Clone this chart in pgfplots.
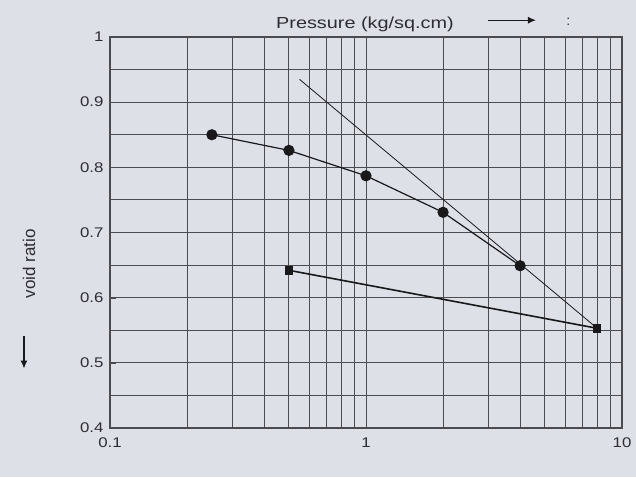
\documentclass[border=0pt]{standalone}
\usepackage{pgfplots}
\pgfplotsset{compat=1.18}
\usepackage{fontspec}
\setmainfont{Liberation Sans}
\usetikzlibrary{arrows.meta}
\definecolor{bg}{RGB}{222,224,232}
\definecolor{gridc}{RGB}{75,75,80}
\definecolor{ink}{RGB}{25,25,28}
\definecolor{txt}{RGB}{45,45,50}
\begin{document}
\begin{tikzpicture}[x=1pt,y=1pt]
\useasboundingbox (-110,-49) rectangle (526,428);
\fill[bg] (-110,-49) rectangle (526,428);
\begin{axis}[
  at={(0,0)}, anchor=south west,
  scale only axis, width=512pt, height=391pt,
  xmode=log, xmin=0.1, xmax=10, ymin=0.4, ymax=1,
  xtick={0.1,1,10}, xticklabels={0.1,1,10},
  ytick={0.4,0.5,0.6,0.7,0.8,0.9,1}, yticklabels={0.4,0.5,0.6,0.7,0.8,0.9,1},
  minor ytick={0.45,0.55,0.65,0.75,0.85,0.95},
  grid=both,
  major grid style={gridc, line width=1pt},
  minor grid style={gridc, line width=0.9pt},
  axis line style={gridc, line width=1.2pt},
  tick style={gridc},
  xtick pos=bottom, ytick pos=left,
  major tick length=6pt, minor tick length=0pt,
  tick label style={font=\fontsize{14}{16}\selectfont, text=txt, xscale=1.2},
  xticklabel style={yshift=-6pt},
  yticklabel style={xshift=-2pt},
  axis background/.style={fill=bg},
  clip=false,
]
\addplot[ink, line width=1.2pt, mark=*, mark size=5pt] coordinates {
  (0.25,0.850) (0.5,0.826) (1,0.787) (2,0.731) (4,0.649)
};
\addplot[ink, line width=0.8pt] coordinates {
  (0.55,0.935) (8,0.553)
};
\addplot[ink, line width=1.6pt, mark=square*, mark size=3.5pt] coordinates {
  (0.5,0.642) (8,0.553)
};
\node[anchor=base west, font=\fontsize{16}{18}\selectfont, text=txt, xscale=1.24] at (rel axis cs:0.316,1.023) {Pressure (kg/sq.cm)};
\draw[ink, line width=1.3pt, -{Latex[length=8pt,width=7pt]}] (rel axis cs:0.738,1.043) -- (rel axis cs:0.832,1.043);
\node[anchor=base, font=\fontsize{14}{16}\selectfont, text=txt] at (rel axis cs:0.895,1.03) {:};
\node[rotate=90, font=\fontsize{17}{19}\selectfont, text=txt] at (rel axis cs:-0.158,0.42) {void ratio};
\draw[ink, line width=1.3pt, -{Latex[length=8pt,width=7pt]}] (rel axis cs:-0.168,0.235) -- (rel axis cs:-0.168,0.152);
\end{axis}
\end{tikzpicture}
\end{document}
